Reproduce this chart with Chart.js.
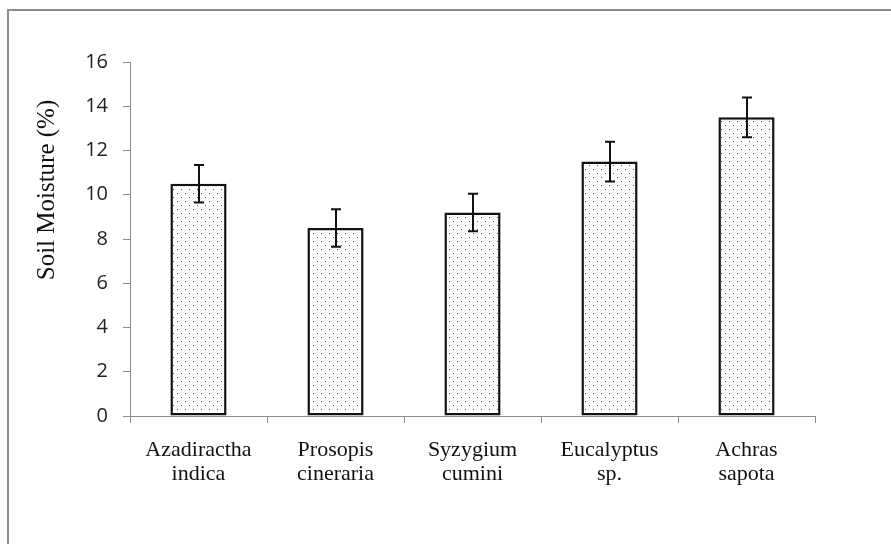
<!DOCTYPE html>
<html>
<head>
<meta charset="utf-8">
<script src="https://cdn.jsdelivr.net/npm/chart.js@4.4.1/dist/chart.umd.min.js"></script>
<style>
    html, body { margin: 0; padding: 0; background: #fff; }
    #wrap { position: relative; width: 891px; height: 544px; overflow: hidden; }
    #frame { position: absolute; left: 7px; top: 9px; width: 900px; height: 600px; border: 2px solid #8c8c8c; box-sizing: border-box; }
    #line-chart { position: absolute; left: 0; top: 0; }
</style>
</head>
<body>
<div id="wrap">
    <div id="frame"></div>
    <canvas id="line-chart" width="891" height="544"></canvas>
</div>
<script>
const categories = [['Azadiractha', 'indica'], ['Prosopis', 'cineraria'], ['Syzygium', 'cumini'], ['Eucalyptus', 'sp.'], ['Achras', 'sapota']];
const moisture = [10.5, 8.5, 9.2, 11.5, 13.5];
const moistureErr = [0.85, 0.85, 0.85, 0.9, 0.9];
const yTicks = [0, 2, 4, 6, 8, 10, 12, 14, 16];
const yTitle = 'Soil Moisture (%)';

document.addEventListener('DOMContentLoaded', () => {
    const chartCanvas = document.getElementById('line-chart');

    // dotted fill like the original
    function dotPattern() {
        const c = document.createElement('canvas');
        c.width = 8;
        c.height = 8;
        const g = c.getContext('2d');
        g.fillStyle = '#fff';
        g.fillRect(0, 0, 8, 8);
        g.fillStyle = '#555';
        g.fillRect(1, 1, 1, 1);
        g.fillRect(5, 5, 1, 1);
        return chartCanvas.getContext('2d').createPattern(c, 'repeat');
    }

    const errorBars = {
        id: 'errorBars',
        afterDatasetsDraw(chart) {
            const ctx = chart.ctx;
            const y = chart.scales.y;
            const meta = chart.getDatasetMeta(0);
            ctx.save();
            ctx.strokeStyle = '#111';
            ctx.lineWidth = 2;
            meta.data.forEach((bar, i) => {
                const top = y.getPixelForValue(moisture[i] + moistureErr[i]);
                const bottom = y.getPixelForValue(moisture[i] - moistureErr[i]);
                const x = Math.round(bar.x);
                ctx.beginPath();
                ctx.moveTo(x, top);
                ctx.lineTo(x, bottom);
                ctx.moveTo(x - 5, top);
                ctx.lineTo(x + 5, top);
                ctx.moveTo(x - 5, bottom);
                ctx.lineTo(x + 5, bottom);
                ctx.stroke();
            });
            ctx.restore();
        }
    };

    const yAxisTitle = {
        id: 'yAxisTitle',
        afterDraw(chart) {
            const ctx = chart.ctx;
            ctx.save();
            ctx.translate(47, 190);
            ctx.rotate(-Math.PI / 2);
            ctx.font = '25px "Liberation Serif"';
            ctx.fillStyle = '#111';
            ctx.textAlign = 'center';
            ctx.textBaseline = 'middle';
            ctx.fillText(yTitle, 0, 0);
            ctx.restore();
        }
    };

    new Chart(chartCanvas, {
        type: 'bar',
        data: {
            labels: categories,
            datasets: [{
                data: moisture,
                backgroundColor: dotPattern(),
                borderColor: '#111',
                borderWidth: 2.5,
                borderSkipped: false,
                categoryPercentage: 1,
                barPercentage: 0.41
            }]
        },
        options: {
            responsive: false,
            animation: false,
            layout: { padding: { top: 62, right: 76, left: 0, bottom: 0 } },
            plugins: {
                legend: { display: false },
                tooltip: { enabled: false }
            },
            scales: {
                x: {
                    afterFit: (scale) => { scale.height = 128; },
                    border: { color: '#8c8c8c', width: 1 },
                    grid: { drawOnChartArea: false, tickLength: 7, color: '#8c8c8c', offset: true },
                    ticks: {
                        padding: 15,
                        color: '#111',
                        font: { family: '"Liberation Serif"', size: 22, lineHeight: 1.1 },
                        maxRotation: 0,
                        autoSkip: false
                    }
                },
                y: {
                    min: 0,
                    max: 16,
                    afterFit: (scale) => { scale.width = 130; },
                    afterBuildTicks: (scale) => { scale.ticks = yTicks.map(v => ({ value: v })); },
                    border: { color: '#8c8c8c', width: 1 },
                    grid: { drawOnChartArea: false, tickLength: 7, color: '#8c8c8c' },
                    ticks: {
                        padding: 15,
                        color: '#222',
                        font: { family: '"Open Sans"', size: 20 }
                    }
                }
            }
        },
        plugins: [errorBars, yAxisTitle]
    });
});
</script>
</body>
</html>
